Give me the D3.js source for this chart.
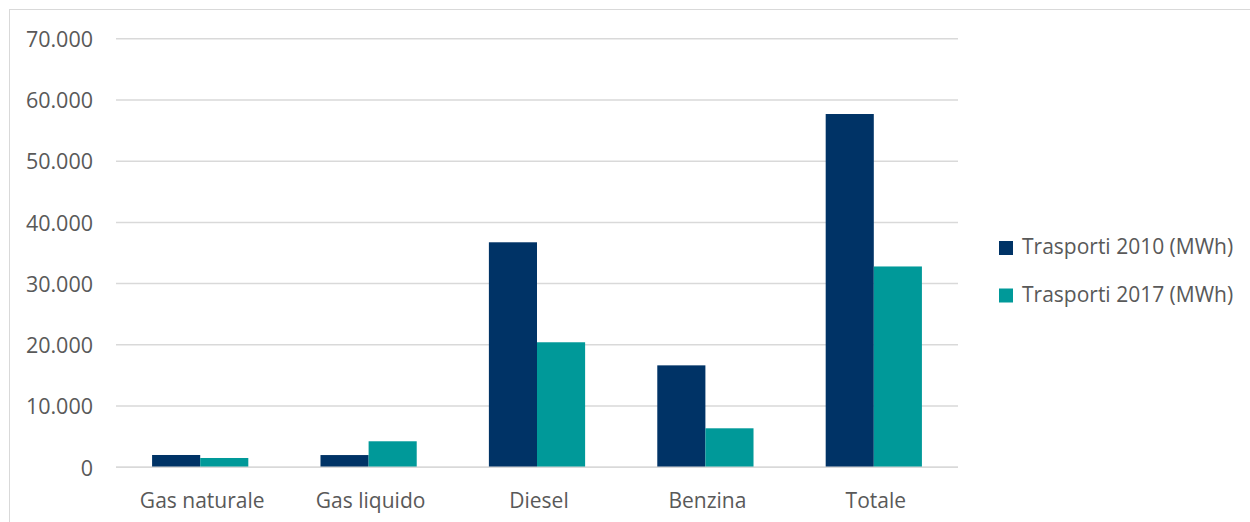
<!DOCTYPE html>
<html>
<head>
<meta charset="utf-8">
<script src="https://cdn.jsdelivr.net/npm/d3@7"></script>
<style>
  html, body { margin: 0; padding: 0; background: #fff; }
  svg { display: block; }
  text { font-family: "Open Sans", "Noto Sans", sans-serif; fill: #595959; }
</style>
</head>
<body>
<svg id="chart" width="1250" height="522"></svg>
<script>
// Consumi energetici del settore trasporti per vettore
const categories = ["Gas naturale", "Gas liquido", "Diesel", "Benzina", "Totale"];
const seriesNames = ["Trasporti 2010 (MWh)", "Trasporti 2017 (MWh)"];
const values2010 = [2010, 2000, 36750, 16650, 57700];
const values2017 = [1520, 4250, 20420, 6370, 32800];
const yTicks = [0, 10000, 20000, 30000, 40000, 50000, 60000, 70000];
const colors = ["#003366", "#009999"];

const svg = d3.select("#chart");

// chart frame
svg.append("rect")
  .attr("x", 9.5).attr("y", 9.5)
  .attr("width", 1300).attr("height", 600)
  .attr("fill", "none").attr("stroke", "#d9d9d9").attr("stroke-width", 1);

const plot = { left: 116, right: 958, top: 38.7, bottom: 467.3 };

const x = d3.scaleBand().domain(categories).range([plot.left, plot.right]).paddingInner(0).paddingOuter(0);
const y = d3.scaleLinear().domain([0, 70000]).range([plot.bottom, plot.top]);

const fmt = v => d3.format(",")(v).replace(/,/g, ".");

// gridlines
svg.append("g")
  .selectAll("line")
  .data(yTicks)
  .join("line")
  .attr("x1", plot.left).attr("x2", plot.right)
  .attr("y1", d => y(d)).attr("y2", d => y(d))
  .attr("stroke", "#d9d9d9").attr("stroke-width", 1.5);

// y axis labels
const yAxis = d3.axisLeft(y).tickValues(yTicks).tickFormat(fmt).tickSize(0).tickPadding(0);
const gy = svg.append("g").attr("transform", "translate(93,0)").call(yAxis);
gy.select(".domain").remove();
gy.selectAll("text")
  .attr("font-size", 21.5).attr("dy", "0.36em")
  .style("font-family", "'Open Sans', 'Noto Sans', sans-serif").attr("fill", "#595959");

// bars
const gap = 1.5; // gap width relative to bar width
const barW = x.bandwidth() / (2 + gap);
const series = [values2010, values2017];
series.forEach((vals, si) => {
  svg.append("g")
    .selectAll("rect")
    .data(categories.map((c, i) => ({ c, v: vals[i] })))
    .join("rect")
    .attr("x", d => x(d.c) + (gap / 2) * barW + si * barW)
    .attr("width", barW)
    .attr("y", d => y(d.v))
    .attr("height", d => y(0) - y(d.v))
    .attr("fill", colors[si]);
});

// baseline over bars
svg.append("line")
  .attr("x1", plot.left).attr("x2", plot.right)
  .attr("y1", y(0)).attr("y2", y(0))
  .attr("stroke", "#d9d9d9").attr("stroke-width", 1.5);

// category labels
const xAxis = d3.axisBottom(x).tickSize(0).tickPadding(0);
const gx = svg.append("g").attr("transform", "translate(2,507.5)").call(xAxis);
gx.select(".domain").remove();
gx.selectAll("text")
  .attr("font-size", 21).attr("dy", 0).attr("y", 0)
  .style("font-family", "'Open Sans', 'Noto Sans', sans-serif").attr("fill", "#595959");

// legend
const legend = svg.append("g").attr("transform", "translate(999,241)");
seriesNames.forEach((name, i) => {
  const g = legend.append("g").attr("transform", `translate(0,${i * 47.5})`);
  g.append("rect").attr("width", 14).attr("height", 14).attr("fill", colors[i]);
  g.append("text").attr("x", 23).attr("y", 13).attr("font-size", 21).text(name);
});
</script>
</body>
</html>
